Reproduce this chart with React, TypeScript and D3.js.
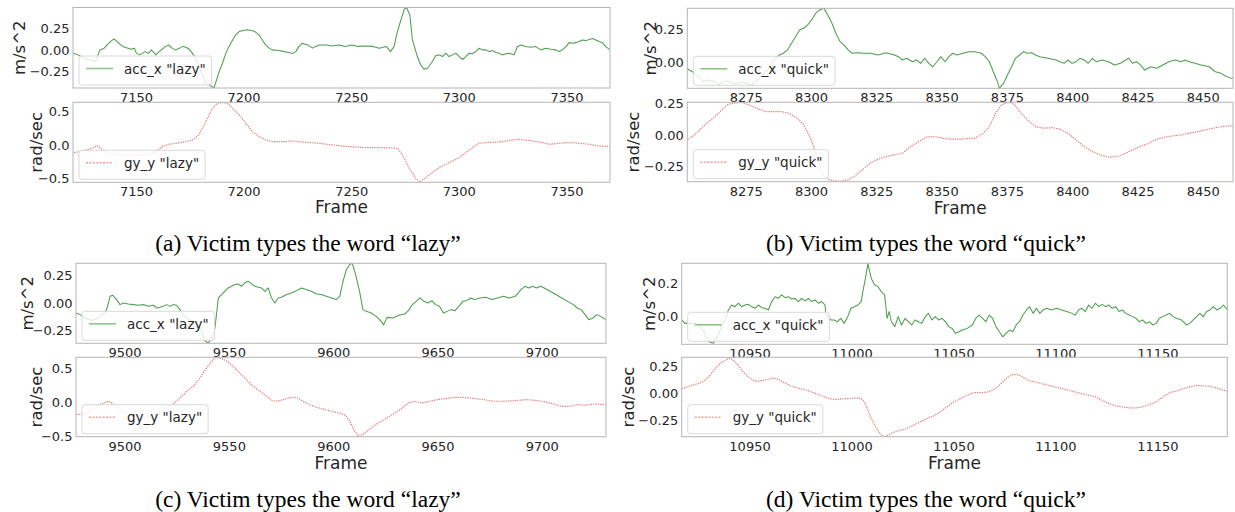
import React, { useEffect, useRef } from 'react';
import * as d3 from 'd3';

type Pt = [number, number];

// ---- (a) "lazy" ----
const accLazyA: Pt[] = [
  [7120,-0.03],[7123,-0.06],[7127,-0.11],[7131,-0.13],[7133,0.0],[7135,0.02],[7137,0.075],[7139.5,0.125],[7141,0.095],[7143.5,0.04],[7145,0.027],[7147.5,0.008],[7149,0.02],[7150,-0.04],[7151.5,-0.057],[7154,-0.02],[7155.5,-0.04],[7157,0.0],[7159,-0.057],[7160.5,-0.02],[7162,0.008],[7163.5,0.04],[7165,0.057],[7166.5,0.02],[7168,0.0],[7170,0.02],[7171.5,0.04],[7173,0.03],[7174.5,0.008],[7176,-0.04],[7177.5,-0.095],[7179,-0.19],[7180.6,-0.28],[7182,-0.38],[7183.7,-0.40],[7186,-0.436],[7187,-0.36],[7188.4,-0.25],[7190,-0.15],[7191.5,-0.04],[7193,0.04],[7194.6,0.11],[7196,0.17],[7197.7,0.21],[7199,0.22],[7201.5,0.23],[7203.8,0.22],[7205,0.21],[7207,0.17],[7208.5,0.11],[7210,0.057],[7211.6,0.02],[7213,0.0],[7216,-0.008],[7219,-0.02],[7222.5,-0.04],[7224,-0.02],[7225.5,0.04],[7227,0.075],[7229.5,0.057],[7231.8,0.02],[7233.3,0.04],[7235,0.057],[7238,0.057],[7241,0.045],[7244,0.057],[7247,0.04],[7250,0.057],[7253,0.04],[7256.6,0.045],[7259.7,0.04],[7262.8,0.02],[7266,0.04],[7268,-0.02],[7269.7,0.04],[7271,0.19],[7272.8,0.34],[7274.5,0.47],[7275.5,0.485],[7277,0.40],[7278.2,0.114],[7280.5,-0.076],[7282,-0.17],[7283.6,-0.22],[7285.2,-0.21],[7287.5,-0.133],[7289,-0.068],[7290.6,-0.057],[7292.2,-0.076],[7293.7,-0.038],[7295.3,-0.076],[7296.8,-0.057],[7298.4,-0.038],[7300,-0.076],[7301.5,-0.11],[7303,-0.076],[7304.6,-0.038],[7306,-0.045],[7307.7,-0.019],[7309.2,0.019],[7310.8,0.0],[7312.3,0.0],[7313.9,-0.019],[7315.4,-0.008],[7317,-0.03],[7318.5,-0.038],[7320,-0.057],[7321.6,-0.045],[7323,-0.038],[7325.4,-0.057],[7327,0.038],[7328.6,0.057],[7330.9,0.038],[7333.2,0.03],[7335.5,0.038],[7337.9,0.0],[7340,0.019],[7342.5,0.008],[7344.8,0.0],[7346.4,-0.019],[7347.9,0.0],[7349.5,0.038],[7351,0.083],[7352.6,0.076],[7354,0.083],[7355.7,0.095],[7357.2,0.114],[7358.8,0.106],[7360.3,0.12],[7361.9,0.13],[7363.4,0.114],[7365,0.095],[7366.5,0.083],[7368,0.038],[7369.6,0.008],[7370,0.0]
];
const gyLazyA: Pt[] = [
  [7120,-0.125],[7126.4,-0.075],[7129.5,-0.05],[7131.8,-0.01],[7133.3,-0.05],[7135.7,-0.11],[7138.8,-0.14],[7141.9,-0.15],[7148,-0.16],[7155.8,-0.14],[7158.9,-0.1],[7162,-0.025],[7165,0.01],[7168.2,0.025],[7172.9,0.05],[7176,0.075],[7179,0.15],[7182.2,0.35],[7185.3,0.55],[7187.6,0.625],[7190.2,0.64],[7193,0.61],[7194.6,0.55],[7197.7,0.45],[7200.8,0.325],[7203.9,0.2],[7207,0.125],[7210,0.075],[7213.2,0.05],[7219.4,0.05],[7222.5,0.06],[7228.7,0.04],[7234.9,0.025],[7241,0.0],[7248.8,-0.025],[7256.6,-0.04],[7264.3,-0.04],[7271.3,-0.05],[7273.6,-0.15],[7276.7,-0.35],[7279.8,-0.5],[7281.3,-0.56],[7284.4,-0.49],[7287.5,-0.41],[7290.6,-0.34],[7293.7,-0.29],[7296.8,-0.24],[7299.9,-0.19],[7303,-0.115],[7306.1,-0.04],[7309.2,0.026],[7312.3,0.036],[7318.5,0.045],[7324.7,0.075],[7327.8,0.085],[7334,0.06],[7337.1,0.045],[7341.8,0.01],[7346.4,0.026],[7351,0.036],[7355.7,0.026],[7360.3,0.01],[7365,-0.015],[7370,-0.024]
];

// ---- (b) "quick" ----
const accQuickB: Pt[] = [
  [8250.1,-0.006],[8252.1,-0.044],[8254.4,-0.07],[8256.8,-0.107],[8258.3,-0.145],[8260.6,-0.133],[8262.9,-0.145],[8264.5,-0.17],[8266,-0.145],[8267.6,-0.14],[8271,-0.16],[8274,-0.15],[8277,-0.17],[8280,-0.12],[8283,-0.06],[8286,0.03],[8287.7,0.057],[8289.2,0.07],[8290.8,0.095],[8292.3,0.145],[8293.9,0.196],[8295.4,0.246],[8297,0.259],[8298.5,0.284],[8300,0.322],[8301.6,0.373],[8303.1,0.398],[8304.7,0.41],[8306.2,0.36],[8307.8,0.297],[8309.3,0.221],[8310.9,0.158],[8312.4,0.133],[8314,0.095],[8315.5,0.07],[8317.8,0.074],[8320.1,0.07],[8322.5,0.07],[8325.5,0.057],[8328.6,0.074],[8331.7,0.057],[8333.3,0.044],[8334.8,0.019],[8336.4,0.032],[8338.7,0.006],[8340.2,0.019],[8341.8,-0.006],[8343.3,0.032],[8344.9,-0.006],[8346.4,-0.032],[8348,0.006],[8349.5,0.044],[8351.1,0.006],[8352.6,0.044],[8354.1,0.07],[8355.7,0.057],[8358,0.07],[8360.3,0.082],[8362.6,0.082],[8365,0.07],[8366.5,0.044],[8368.1,0.006],[8369.6,-0.07],[8371.2,-0.145],[8371.9,-0.195],[8373.5,-0.158],[8375,-0.095],[8376.6,-0.032],[8378.1,0.032],[8379.7,0.057],[8381.2,0.082],[8382.7,0.07],[8384.3,0.074],[8385.8,0.057],[8387.4,0.044],[8390.5,0.032],[8393.6,0.019],[8395.1,0.006],[8396.7,-0.006],[8398.2,0.019],[8399.7,-0.006],[8401.3,0.006],[8402.8,0.032],[8404.4,0.019],[8405.9,-0.006],[8407.5,0.032],[8409,0.006],[8411.3,0.019],[8413.7,0.006],[8416,-0.019],[8418.3,-0.006],[8421.4,0.032],[8422.9,-0.006],[8424.5,0.006],[8426,-0.019],[8427.6,-0.057],[8429.9,-0.032],[8432.2,-0.044],[8434.5,-0.019],[8436.8,0.006],[8439.2,0.019],[8441.5,0.006],[8443,0.019],[8444.6,0.006],[8446.9,-0.006],[8449.2,-0.019],[8452.3,-0.032],[8454.6,-0.07],[8456.9,-0.082],[8458.5,-0.102],[8460.8,-0.12],[8463.1,-0.095],[8465.1,-0.107]
];
const gyQuickB: Pt[] = [
  [8250.1,-0.066],[8254.4,-0.013],[8259.1,0.079],[8263.7,0.158],[8267.6,0.237],[8269.9,0.25],[8273,0.258],[8276.1,0.237],[8279.2,0.21],[8282.3,0.184],[8288.4,0.184],[8291.5,0.171],[8294.6,0.132],[8297,0.079],[8299.3,-0.013],[8300.8,-0.092],[8302.4,-0.197],[8303.9,-0.302],[8305.5,-0.342],[8307.8,-0.36],[8310.9,-0.368],[8314,-0.355],[8316.3,-0.329],[8319.4,-0.276],[8322.5,-0.223],[8325.5,-0.192],[8328.6,-0.171],[8331.7,-0.158],[8334.8,-0.145],[8337.9,-0.092],[8341,-0.053],[8344.1,-0.018],[8347.2,-0.013],[8350.3,-0.026],[8353.4,-0.034],[8356.5,-0.034],[8359.6,-0.03],[8362.6,-0.026],[8365.7,0.013],[8368.1,0.066],[8370.4,0.171],[8372.7,0.237],[8375,0.258],[8377.3,0.25],[8379.7,0.184],[8382.7,0.118],[8385.8,0.066],[8388.9,0.053],[8392,0.058],[8395.1,0.045],[8398.2,0.013],[8401.3,-0.039],[8404.4,-0.092],[8407.5,-0.132],[8410.6,-0.158],[8413.7,-0.176],[8416.8,-0.171],[8419.8,-0.15],[8422.9,-0.118],[8426,-0.092],[8429.1,-0.066],[8432.2,-0.034],[8435.3,-0.018],[8438.4,-0.008],[8441.5,0.0],[8444.6,0.013],[8447.7,0.026],[8450.8,0.039],[8453.9,0.053],[8457,0.066],[8460,0.071],[8465,0.071]
];

// ---- (c) "lazy" ----
const accLazyC: Pt[] = [
  [9476.6,-0.092],[9478.5,-0.107],[9480.9,-0.138],[9484,-0.16],[9487,-0.14],[9489.5,-0.1],[9491.2,-0.061],[9492.8,0.061],[9494.1,0.07],[9496,0.031],[9497.6,-0.015],[9499.2,0.0],[9501.6,-0.009],[9504,-0.015],[9506.4,-0.021],[9508.8,-0.015],[9511.2,-0.031],[9513.6,-0.021],[9515.2,-0.046],[9516.7,-0.04],[9518.3,-0.031],[9519.9,-0.015],[9521.5,-0.031],[9523.1,-0.015],[9524.7,-0.021],[9526.3,-0.061],[9527.9,-0.107],[9529.5,-0.138],[9532.7,-0.169],[9535.1,-0.215],[9536.7,-0.26],[9538.3,-0.347],[9539.9,-0.37],[9541.5,-0.322],[9543.1,-0.23],[9544.7,0.046],[9546.3,0.077],[9547.8,0.107],[9549.4,0.138],[9551,0.153],[9552.6,0.169],[9554.2,0.175],[9555.8,0.153],[9557.4,0.184],[9559,0.2],[9560.6,0.175],[9562.2,0.153],[9563.8,0.144],[9565.4,0.138],[9567,0.107],[9568.6,0.138],[9570.2,0.046],[9571.8,0.0],[9573.4,0.046],[9575,0.052],[9577.4,0.077],[9579.7,0.092],[9582.1,0.113],[9584.5,0.138],[9586.9,0.123],[9589.3,0.107],[9591.7,0.083],[9594.1,0.077],[9596.5,0.061],[9598.9,0.046],[9601.3,0.031],[9602.9,0.061],[9604.5,0.2],[9606.1,0.307],[9607.7,0.353],[9608.9,0.364],[9610.5,0.26],[9612.4,0.107],[9614,-0.061],[9615.6,-0.077],[9618,-0.092],[9620.4,-0.123],[9622.8,-0.169],[9623.9,-0.2],[9625.6,-0.132],[9628.4,-0.138],[9631.2,-0.113],[9634,-0.101],[9635.8,-0.071],[9637.7,-0.015],[9639.5,0.015],[9641.4,0.046],[9643.3,0.015],[9645.1,0.0],[9647,0.021],[9648.8,-0.015],[9650.7,-0.031],[9652.6,-0.092],[9654.4,-0.077],[9656.3,-0.061],[9658.1,-0.071],[9660,-0.031],[9661.9,0.015],[9663.7,0.021],[9665.6,0.046],[9667.4,0.031],[9670.2,0.046],[9673,0.052],[9675.8,0.031],[9678.6,0.046],[9681.4,0.061],[9684.2,0.046],[9687,0.061],[9689.8,0.123],[9691.6,0.153],[9693.5,0.138],[9695.3,0.153],[9697.2,0.138],[9699.1,0.153],[9700.9,0.138],[9703.7,0.107],[9706.5,0.077],[9709.3,0.046],[9712.1,0.015],[9714.9,-0.015],[9716.7,-0.046],[9718.6,-0.061],[9720.5,-0.107],[9722.3,-0.153],[9724.2,-0.138],[9726,-0.107],[9727.9,-0.123],[9730.3,-0.153]
];
const gyLazyC: Pt[] = [
  [9476.6,-0.18],[9480.1,-0.171],[9483.3,-0.132],[9486.4,-0.059],[9489.6,-0.01],[9492,0.015],[9494.4,-0.024],[9497.6,-0.107],[9500.8,-0.171],[9504,-0.19],[9507.2,-0.205],[9510.4,-0.205],[9513.6,-0.19],[9516.7,-0.156],[9519.9,-0.083],[9523.1,-0.024],[9526.3,0.063],[9529.5,0.161],[9532.7,0.234],[9535.9,0.356],[9539.1,0.502],[9541.5,0.6],[9543.5,0.66],[9546.3,0.64],[9548.6,0.61],[9551.8,0.527],[9555,0.43],[9558.2,0.332],[9561.4,0.234],[9564.6,0.161],[9567.8,0.088],[9571,0.015],[9574.2,0.024],[9577.4,0.054],[9580.5,0.073],[9582.9,0.063],[9585.3,0.015],[9588.5,-0.034],[9591.7,-0.073],[9595,-0.1],[9600,-0.14],[9604,-0.17],[9606,-0.2],[9608,-0.3],[9610,-0.42],[9612,-0.5],[9614.4,-0.46],[9617,-0.4],[9620,-0.33],[9625.6,-0.229],[9631.2,-0.122],[9635.8,-0.01],[9638.6,0.015],[9642.3,-0.01],[9646,0.015],[9649.8,0.039],[9653.5,0.054],[9658.1,0.073],[9662.8,0.073],[9667.4,0.054],[9672.1,0.039],[9676.7,0.015],[9681.4,0.015],[9687,0.024],[9692.6,0.039],[9698.1,0.024],[9703.7,-0.01],[9709.3,-0.059],[9713,-0.059],[9716.7,-0.034],[9720.5,-0.044],[9724.2,-0.024],[9730.3,-0.034]
];

// ---- (d) "quick" ----
const accQuickD: Pt[] = [
  [10916.5,-0.024],[10918.1,-0.045],[10920.6,-0.045],[10923,-0.045],[10925,-0.06],[10927.1,-0.086],[10928.8,-0.137],[10930.4,-0.161],[10932,-0.167],[10933.3,-0.137],[10934.5,-0.116],[10936.1,-0.055],[10937.7,-0.024],[10939.4,0.037],[10941,0.067],[10942.6,0.057],[10944.3,0.078],[10945.9,0.057],[10947.5,0.067],[10949.2,0.071],[10950.8,0.057],[10952.5,0.047],[10954.1,0.067],[10955.7,0.051],[10957.4,0.047],[10959,0.037],[10960.6,0.088],[10962.3,0.118],[10963.9,0.108],[10965.5,0.129],[10967.2,0.112],[10968.8,0.118],[10970.4,0.104],[10972.1,0.108],[10973.7,0.088],[10975.3,0.108],[10977,0.092],[10978.6,0.108],[10980.2,0.088],[10981.9,0.098],[10983.5,0.078],[10985.1,0.088],[10986.8,0.067],[10987.1,0.016],[10989.6,-0.024],[10991.2,-0.024],[10992.9,-0.035],[10994.5,-0.014],[10996.2,-0.045],[10997.9,-0.004],[10999.5,0.047],[11001.2,0.057],[11002.8,0.067],[11004.5,0.088],[11005.3,0.149],[11006.6,0.231],[11007.8,0.32],[11009.4,0.231],[11011.1,0.19],[11012.7,0.18],[11014.4,0.149],[11016,0.129],[11017.2,-0.014],[11018.2,0.027],[11019.3,-0.035],[11021,-0.065],[11022.6,-0.004],[11024.3,-0.055],[11026,-0.014],[11027.6,-0.035],[11029.3,-0.055],[11030.9,-0.024],[11032.6,-0.035],[11034.2,-0.045],[11035.9,-0.004],[11037.5,0.016],[11039.2,-0.024],[11040.8,-0.004],[11042.5,-0.024],[11044.1,-0.014],[11045.8,-0.035],[11047.4,-0.065],[11049.1,-0.076],[11050.7,-0.106],[11052.4,-0.096],[11054,-0.086],[11056.5,-0.076],[11059,-0.055],[11060.7,-0.014],[11062.3,0.006],[11064,-0.014],[11065.6,-0.035],[11067.3,0.006],[11068.9,-0.014],[11070.6,-0.065],[11072.2,-0.096],[11073.9,-0.127],[11075.5,-0.106],[11077.2,-0.086],[11078.8,-0.096],[11080.5,-0.055],[11082.1,-0.035],[11083.8,0.006],[11085.5,0.037],[11087.1,0.057],[11088.8,0.016],[11090.4,0.047],[11092.1,0.016],[11093.7,0.037],[11095.4,0.047],[11097.9,0.037],[11100.3,0.047],[11102.8,0.037],[11105.3,0.027],[11107.8,0.016],[11109.4,0.006],[11111.1,0.037],[11112.7,0.047],[11114.4,0.027],[11116,0.067],[11117.7,0.047],[11119.3,0.078],[11121,0.057],[11122.6,0.071],[11124.3,0.057],[11126,0.067],[11127.6,0.047],[11129.3,0.057],[11130.9,0.027],[11132.6,0.037],[11134.2,0.016],[11135.9,0.006],[11137.5,-0.004],[11139.2,-0.014],[11140.8,-0.035],[11142.5,-0.024],[11144.1,-0.045],[11145.8,-0.035],[11147.4,-0.055],[11149.1,-0.045],[11150.7,-0.014],[11152.4,-0.004],[11154,0.006],[11155.7,0.016],[11157.4,-0.004],[11159,-0.014],[11161.5,-0.024],[11164,-0.055],[11165.6,-0.045],[11167.3,-0.024],[11168.9,-0.004],[11170.6,0.016],[11172.2,-0.004],[11173.9,0.027],[11175.5,0.037],[11177.2,0.057],[11178.8,0.037],[11180.5,0.047],[11182.1,0.067],[11184.1,0.037]
];
const gyQuickD: Pt[] = [
  [10916.5,0.046],[10920.6,0.071],[10924.6,0.093],[10927.9,0.123],[10930.4,0.17],[10932.8,0.23],[10935.3,0.278],[10937.7,0.309],[10939.9,0.33],[10941.8,0.309],[10944.3,0.262],[10946.7,0.2],[10949.2,0.154],[10951.6,0.123],[10954.1,0.114],[10956.5,0.123],[10959,0.133],[10961.4,0.145],[10963.9,0.133],[10966.3,0.108],[10968.8,0.083],[10971.2,0.062],[10974.5,0.046],[10977.8,0.031],[10981,0.009],[10984.3,-0.015],[10987.6,-0.04],[10990.8,-0.052],[10993.3,-0.055],[10995.4,-0.046],[10998.7,-0.046],[11002,-0.04],[11004.5,-0.046],[11006.1,-0.077],[11007.8,-0.154],[11009.4,-0.231],[11011.1,-0.293],[11012.7,-0.34],[11014.4,-0.386],[11016,-0.40],[11017.7,-0.386],[11020.2,-0.36],[11023.5,-0.34],[11026.8,-0.324],[11030.1,-0.293],[11033.4,-0.262],[11036.7,-0.231],[11040,-0.207],[11043.3,-0.17],[11046.6,-0.123],[11049.9,-0.077],[11053.2,-0.046],[11056.5,-0.015],[11059.8,0.009],[11063.1,0.009],[11066.4,0.015],[11068.9,0.031],[11071.4,0.062],[11073.9,0.108],[11076.4,0.154],[11078.8,0.176],[11081.3,0.176],[11083.8,0.154],[11086.3,0.123],[11089.6,0.108],[11092.9,0.093],[11096.2,0.077],[11099.5,0.062],[11102.8,0.046],[11106.1,0.031],[11109.4,0.015],[11112.7,0.0],[11116,-0.015],[11119.3,-0.031],[11122.6,-0.062],[11126,-0.093],[11129.3,-0.114],[11132.6,-0.123],[11135.9,-0.133],[11139.2,-0.133],[11142.5,-0.123],[11145.8,-0.102],[11149.1,-0.077],[11152.4,-0.031],[11155.7,0.009],[11159,0.022],[11162.3,0.046],[11165.6,0.062],[11168.9,0.077],[11172.2,0.071],[11175.5,0.068],[11178.8,0.052],[11182.1,0.031],[11184.1,0.022]
];

// ---- axes extents and ticks ----
const xDomainA = [7120.5, 7370];
const xDomainB = [8252.4, 8461.4];
const xDomainC = [9476.5, 9730.5];
const xDomainD = [10916.5, 11184];
const yDomainAccA = [-0.436, 0.485];
const yDomainGyA = [-0.56, 0.64];
const yDomainAccB = [-0.195, 0.41];
const yDomainGyB = [-0.37, 0.258];
const yDomainAccC = [-0.37, 0.364];
const yDomainGyC = [-0.505, 0.66];
const yDomainAccD = [-0.173, 0.322];
const yDomainGyD = [-0.40, 0.337];

const xTicksA = [7150, 7200, 7250, 7300, 7350];
const xTicksB = [8275, 8300, 8325, 8350, 8375, 8400, 8425, 8450];
const xTicksC = [9500, 9550, 9600, 9650, 9700];
const xTicksD = [10950, 11000, 11050, 11100, 11150];
const yTicksAccA = [-0.25, 0, 0.25];
const yTicksGyA = [-0.5, 0, 0.5];
const yTicksAccB = [0, 0.25];
const yTicksGyB = [-0.25, 0, 0.25];
const yTicksAccC = [-0.25, 0, 0.25];
const yTicksGyC = [-0.5, 0, 0.5];
const yTicksAccD = [0, 0.2];
const yTicksGyD = [-0.25, 0, 0.25];

const legendAcc = ['acc_x "lazy"', 'acc_x "quick"', 'acc_x "lazy"', 'acc_x "quick"'];
const legendGy = ['gy_y "lazy"', 'gy_y "quick"', 'gy_y "lazy"', 'gy_y "quick"'];
const captions = [
  '(a) Victim types the word \u201Clazy\u201D',
  '(b) Victim types the word \u201Cquick\u201D',
  '(c) Victim types the word \u201Clazy\u201D',
  '(d) Victim types the word \u201Cquick\u201D',
];
const accLabel = 'm/s^2';
const gyLabel = 'rad/sec';
const xLabel = 'Frame';

export default function App() {
  const ref = useRef<SVGSVGElement>(null);

  useEffect(() => {
    const svg = d3.select(ref.current);
    svg.selectAll('*').remove();

    const layout = [
      { x0: 73, x1: 610, top: [7.5, 88], bot: [102.3, 182.3], accLabX: 25, gyLabX: 42, frameY: 207, capX: 308, capY: 250.5 },
      { x0: 687.3, x1: 1233, top: [8.3, 88.3], bot: [102.3, 181.7], accLabX: 656, gyLabX: 639, frameY: 208, capX: 926, capY: 250.5 },
      { x0: 76, x1: 606, top: [263.3, 343.3], bot: [357.3, 436.7], accLabX: 33, gyLabX: 42, frameY: 463.3, capX: 308, capY: 506.5 },
      { x0: 681.7, x1: 1227.3, top: [263.3, 344.3], bot: [357.3, 436.7], accLabX: 655, gyLabX: 634, frameY: 463.3, capX: 926, capY: 506.5 },
    ];
    const panels = [
      { xd: xDomainA, xt: xTicksA, acc: accLazyA, gy: gyLazyA, yda: yDomainAccA, ydg: yDomainGyA, yta: yTicksAccA, ytg: yTicksGyA, fa: '.2f', fg: '.1f' },
      { xd: xDomainB, xt: xTicksB, acc: accQuickB, gy: gyQuickB, yda: yDomainAccB, ydg: yDomainGyB, yta: yTicksAccB, ytg: yTicksGyB, fa: '.2f', fg: '.2f' },
      { xd: xDomainC, xt: xTicksC, acc: accLazyC, gy: gyLazyC, yda: yDomainAccC, ydg: yDomainGyC, yta: yTicksAccC, ytg: yTicksGyC, fa: '.2f', fg: '.1f' },
      { xd: xDomainD, xt: xTicksD, acc: accQuickD, gy: gyQuickD, yda: yDomainAccD, ydg: yDomainGyD, yta: yTicksAccD, ytg: yTicksGyD, fa: '.1f', fg: '.2f' },
    ];

    const tickFont = 'DejaVu Sans';
    const tickColor = '#262626';
    const spineColor = '#b5b5b5';
    let clipId = 0;

    const drawAxes = (
      x0: number, x1: number, yr: number[], xd: number[], xt: number[], yd: number[], yt: number[], fmt: string,
      data: Pt[], kind: 'acc' | 'gy', legendText: string, ylab: string, ylabX: number
    ) => {
      const x = d3.scaleLinear().domain(xd).range([x0, x1]);
      const y = d3.scaleLinear().domain(yd).range([yr[1], yr[0]]);
      const g = svg.append('g');
      const id = 'clip' + clipId++;
      svg.append('defs').append('clipPath').attr('id', id)
        .append('rect').attr('x', x0).attr('y', yr[0]).attr('width', x1 - x0).attr('height', yr[1] - yr[0]);
      g.append('rect').attr('x', x0).attr('y', yr[0]).attr('width', x1 - x0).attr('height', yr[1] - yr[0])
        .attr('fill', '#fff');
      const line = d3.line<Pt>().x(d => x(d[0])).y(d => y(d[1]));
      const path = g.append('path').attr('d', line(data) || '').attr('fill', 'none')
        .attr('clip-path', `url(#${id})`);
      if (kind === 'acc') {
        path.attr('stroke', '#4e9e4e').attr('stroke-width', 1.05).attr('stroke-linejoin', 'round');
      } else {
        path.attr('stroke', '#e06a6a').attr('stroke-width', 1.2).attr('stroke-dasharray', '1.3,1.1').attr('opacity', 0.9);
      }
      // spines
      g.append('rect').attr('x', x0).attr('y', yr[0]).attr('width', x1 - x0).attr('height', yr[1] - yr[0])
        .attr('fill', 'none').attr('stroke', spineColor).attr('stroke-width', 1);
      // x ticks
      g.selectAll('text.xt').data(xt).enter().append('text')
        .attr('x', d => x(d)).attr('y', yr[1] + 14).attr('text-anchor', 'middle')
        .attr('font-family', tickFont).attr('font-size', 13).attr('fill', tickColor)
        .text(d => String(d));
      // y ticks
      const f = d3.format(fmt);
      g.selectAll('text.yt').data(yt).enter().append('text')
        .attr('x', x0 - 3.5).attr('y', d => y(d) + 4.7).attr('text-anchor', 'end')
        .attr('font-family', tickFont).attr('font-size', 13).attr('fill', tickColor)
        .text(d => f(d));
      // y label
      g.append('text').attr('transform', `translate(${ylabX},${(yr[0] + yr[1]) / 2}) rotate(-90)`)
        .attr('text-anchor', 'middle').attr('font-family', tickFont).attr('font-size', 16.5)
        .attr('fill', tickColor).text(ylab);
      // legend
      const lg = g.append('g').attr('transform', `translate(${x0 + 6},${yr[1] - 32})`);
      const box = lg.append('rect').attr('x', 0).attr('y', 0).attr('height', 29).attr('rx', 3)
        .attr('fill', '#fff').attr('fill-opacity', 0.8).attr('stroke', '#d9d9d9').attr('stroke-width', 1);
      const ls = lg.append('line').attr('x1', 7).attr('x2', 34).attr('y1', 12.5).attr('y2', 12.5);
      if (kind === 'acc') {
        ls.attr('stroke', '#8cc68c').attr('stroke-width', 1.6);
      } else {
        ls.attr('stroke', '#f0a0a0').attr('stroke-width', 1.5).attr('stroke-dasharray', '2,1.4');
      }
      const t = lg.append('text').attr('x', 45).attr('y', 17.5).attr('font-family', tickFont)
        .attr('font-size', 13.5).attr('fill', tickColor).text(legendText);
      const tw = (t.node() as SVGTextElement).getComputedTextLength();
      box.attr('width', 45 + tw + 6);
    };

    panels.forEach((p, i) => {
      const L = layout[i];
      drawAxes(L.x0, L.x1, L.top, p.xd, p.xt, p.yda, p.yta, p.fa, p.acc, 'acc', legendAcc[i], accLabel, L.accLabX);
      drawAxes(L.x0, L.x1, L.bot, p.xd, p.xt, p.ydg, p.ytg, p.fg, p.gy, 'gy', legendGy[i], gyLabel, L.gyLabX);
      svg.append('text').attr('x', (L.x0 + L.x1) / 2).attr('y', L.frameY).attr('dominant-baseline', 'central')
        .attr('text-anchor', 'middle').attr('font-family', tickFont).attr('font-size', 17)
        .attr('fill', tickColor).text(xLabel);
      svg.append('text').attr('x', L.capX).attr('y', L.capY).attr('text-anchor', 'middle')
        .attr('font-family', 'Liberation Serif, Times New Roman, serif').attr('font-size', 23.5)
        .attr('fill', '#000').text(captions[i]);
    });
  }, []);

  return (
    <svg ref={ref} width={1235} height={512}
      style={{ position: 'absolute', left: 0, top: 0, display: 'block', background: '#fff' }} />
  );
}
